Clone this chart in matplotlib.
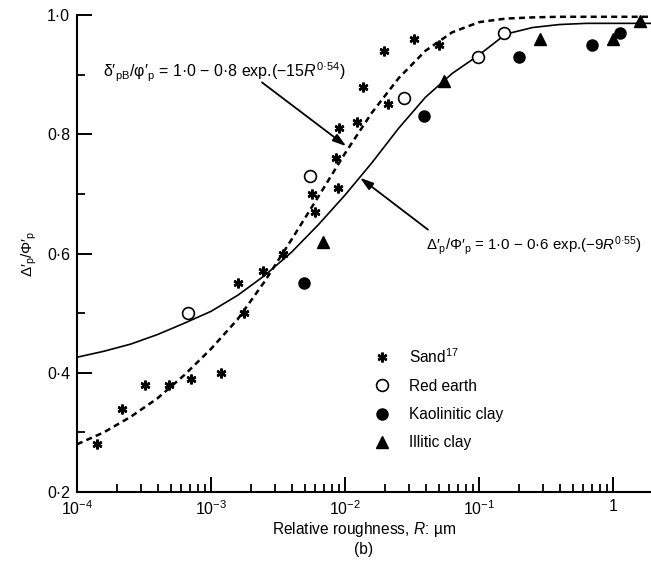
import matplotlib
matplotlib.use("Agg")
import matplotlib.pyplot as plt
import numpy as np
from matplotlib.ticker import FixedLocator, FixedFormatter, LogLocator, NullFormatter

plt.rcParams['font.family'] = ['Liberation Sans', 'DejaVu Sans']
plt.rcParams['mathtext.fontset'] = 'custom'
plt.rcParams['mathtext.rm'] = 'Liberation Sans'
plt.rcParams['mathtext.it'] = 'Liberation Sans:italic'

# measured points (R in um, ratio)
sand_r = [1.41e-4, 2.17e-4, 3.21e-4, 4.86e-4, 7.1e-4, 1.19e-3, 1.58e-3, 1.76e-3,
          2.44e-3, 3.44e-3, 5.97e-3, 5.68e-3, 8.87e-3, 8.57e-3, 9.0e-3, 1.23e-2,
          2.09e-2, 1.36e-2, 1.95e-2, 3.27e-2, 5.02e-2]
sand_y = [0.28, 0.34, 0.38, 0.38, 0.39, 0.40, 0.55, 0.50,
          0.57, 0.60, 0.67, 0.70, 0.71, 0.76, 0.81, 0.82,
          0.85, 0.88, 0.94, 0.96, 0.95]
red_r = [6.7e-4, 5.5e-3, 2.75e-2, 9.8e-2, 0.154]
red_y = [0.50, 0.73, 0.86, 0.93, 0.97]
kao_r = [4.9e-3, 3.9e-2, 0.199, 0.70, 1.13]
kao_y = [0.55, 0.83, 0.93, 0.95, 0.97]
ill_r = [6.9e-3, 5.5e-2, 0.285, 1.0, 1.59]
ill_y = [0.62, 0.89, 0.96, 0.96, 0.99]

# fitted curves
curve_log_r = [-4.0, -3.8, -3.6, -3.4, -3.2, -3.0, -2.8, -2.6, -2.4, -2.2, -2.0,
               -1.8, -1.6, -1.4, -1.2, -1.0, -0.8, -0.6, -0.4, -0.2, 0.0, 0.3]
dashed_y = [0.280, 0.300, 0.326, 0.357, 0.396, 0.440, 0.490, 0.553, 0.623, 0.695, 0.768,
            0.836, 0.894, 0.940, 0.971, 0.988, 0.994, 0.996, 0.997, 0.997, 0.997, 0.997]
solid_y = [0.426, 0.436, 0.448, 0.464, 0.483, 0.503, 0.530, 0.563, 0.602, 0.648, 0.698,
           0.752, 0.810, 0.862, 0.902, 0.933, 0.968, 0.979, 0.984, 0.986, 0.986, 0.986]

x_ticks = [1e-4, 1e-3, 1e-2, 1e-1, 1]
x_ticklabels = ['$10^{-4}$', '$10^{-3}$', '$10^{-2}$', '$10^{-1}$', '1']
y_ticks = [0.2, 0.4, 0.6, 0.8, 1.0]
y_ticklabels = ['0·2', '0·4', '0·6', '0·8', '1·0']

fig = plt.figure(figsize=(6.51, 5.65), dpi=100)
ax = fig.add_axes([77 / 651, 73 / 565, 574 / 651, 477 / 565])

curve_r = 10.0 ** np.array(curve_log_r)
ax.plot(curve_r, solid_y, color='k', lw=1.2)
ax.plot(curve_r, dashed_y, color='k', lw=1.8, ls=(0, (2.4, 1.7)))

ax.plot(sand_r, sand_y, ls='none', marker=(6, 2, 0), ms=7, mew=1.8, color='k', label='Sand$^{17}$')
ax.plot(red_r, red_y, ls='none', marker='o', ms=8.5, mfc='white', mec='k', mew=1.2, label='Red earth')
ax.plot(kao_r, kao_y, ls='none', marker='o', ms=8, color='k', label='Kaolinitic clay')
ax.plot(ill_r, ill_y, ls='none', marker='^', ms=8.5, color='k', label='Illitic clay')

ax.set_xscale('log')
ax.set_xlim(1e-4, 1.92)
ax.set_ylim(0.2, 1.0)
for s in ['top', 'right']:
    ax.spines[s].set_visible(False)
for s in ['left', 'bottom']:
    ax.spines[s].set_linewidth(1.5)

ax.xaxis.set_major_locator(FixedLocator(x_ticks))
ax.xaxis.set_major_formatter(FixedFormatter(x_ticklabels))
ax.xaxis.set_minor_locator(LogLocator(base=10, subs=np.arange(2, 10)))
ax.xaxis.set_minor_formatter(NullFormatter())
ax.yaxis.set_major_locator(FixedLocator(y_ticks))
ax.yaxis.set_major_formatter(FixedFormatter(y_ticklabels))
ax.yaxis.set_minor_locator(FixedLocator([0.3, 0.5, 0.7, 0.9]))
ax.tick_params(which='major', direction='in', length=10.5, width=1.4, labelsize=11.5)
ax.tick_params(which='minor', direction='in', length=5.5, width=1.3)
ax.tick_params(axis='x', which='major', pad=5)
ax.tick_params(axis='y', which='major', pad=5)

ax.set_xlabel('Relative roughness, $\\mathit{R}$: µm\n(b)', fontsize=11.2, labelpad=2, linespacing=1.25)
ax.set_ylabel("Δ′$_{\\mathrm{p}}$/Φ′$_{\\mathrm{p}}$", fontsize=11, labelpad=6)

ax.text(1.56e-4, 0.904, "δ′$_{\\mathrm{pB}}$/φ′$_{\\mathrm{p}}$ = 1·0 − 0·8 exp.(−15$\\mathit{R}^{\\mathrm{0·54}}$)",
        fontsize=11.5, ha='left', va='center')
ax.annotate('', xy=(1.02e-2, 0.780), xytext=(2.40e-3, 0.887),
            arrowprops=dict(arrowstyle='-|>,head_length=0.8,head_width=0.25', color='k', lw=1.3,
                            shrinkA=0, shrinkB=0))
ax.text(0.0402, 0.614, "Δ′$_{\\mathrm{p}}$/Φ′$_{\\mathrm{p}}$ = 1·0 − 0·6 exp.(−9$\\mathit{R}^{\\mathrm{0·55}}$)",
        fontsize=10.8, ha='left', va='center', clip_on=False)
ax.annotate('', xy=(0.01294, 0.727), xytext=(0.0416, 0.640),
            arrowprops=dict(arrowstyle='-|>,head_length=0.8,head_width=0.25', color='k', lw=1.3,
                            shrinkA=0, shrinkB=0))

ax.legend(loc='upper left', bbox_to_anchor=(374 / 651, 1 - 347 / 565), bbox_transform=fig.transFigure,
          frameon=False, fontsize=11.2, handlelength=1.0, handletextpad=1.25, labelspacing=0.85,
          borderaxespad=0, borderpad=0)

fig.savefig('out.png', dpi=100)
